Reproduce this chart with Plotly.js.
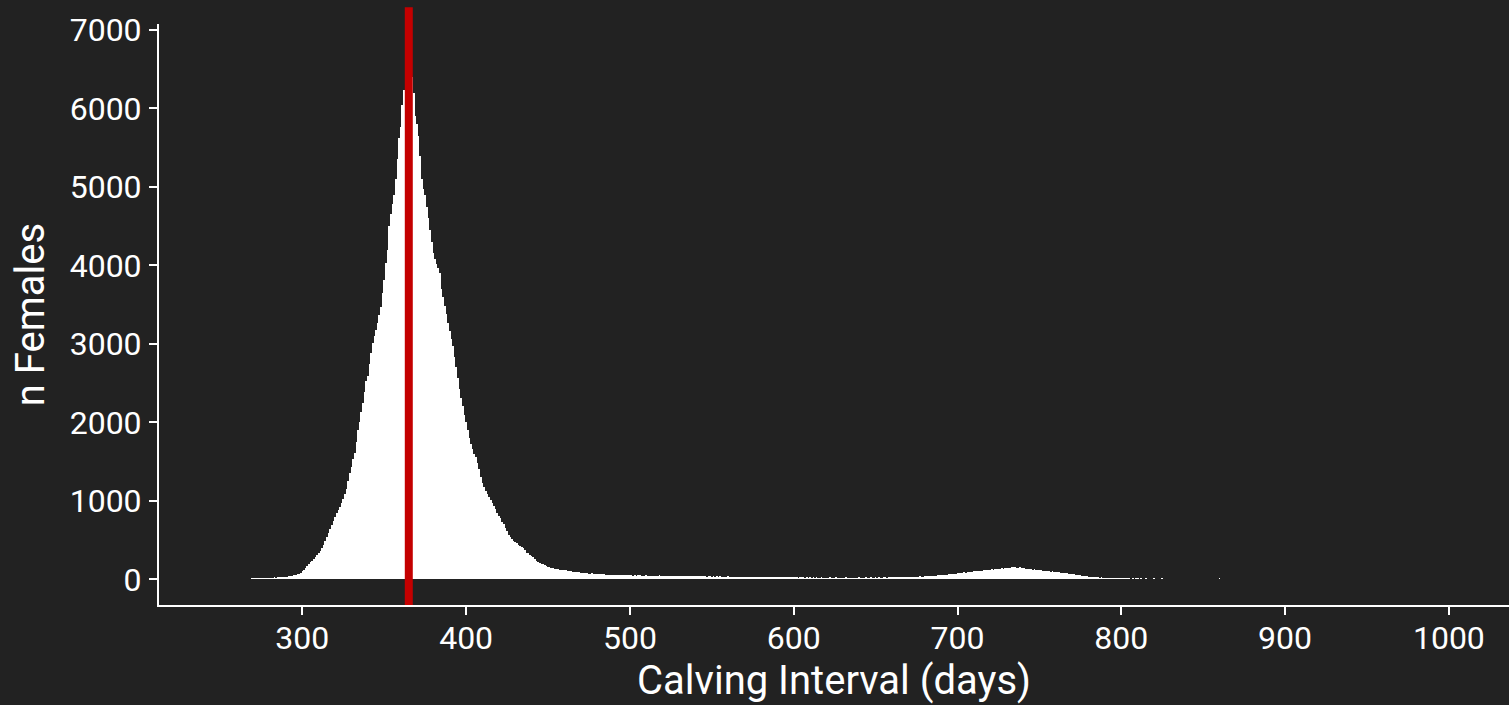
<!DOCTYPE html>
<html>
<head>
<meta charset="utf-8">
<script src="https://cdn.plot.ly/plotly-3.0.1.min.js"></script>
<style>
  html, body { margin: 0; padding: 0; background: #222222; }
  #chart { width: 1509px; height: 705px; }
</style>
</head>
<body>
<div id="chart"></div>
<script>
// First day of the histogram bins (1-day bins)
const firstDay = 269;

// Number of females per calving interval day
const counts = [
  // 269-299
  14,12,16,13,15,17,14,18,16,20,17,19,22,20,24,21,26,28,25,30,32,29,35,38,42,46,50,57,64,74,87,
  // 300-339
  100,120,140,165,190,215,240,265,290,315,340,365,400,440,490,540,590,640,690,740,
  790,840,880,920,970,1030,1090,1150,1250,1350,1430,1530,1610,1750,1900,2010,2130,2250,2390,2530,
  // 340-379
  2590,2740,2880,3010,3100,3180,3260,3370,3470,3650,3820,4030,4200,4500,4650,4780,4900,5100,5350,5620,
  5760,6050,6230,6330,6400,6450,6420,6400,6200,5900,5800,5650,5400,5100,4980,4900,4750,4600,4450,4300,
  // 380-419
  4160,4080,4020,3970,3900,3700,3600,3480,3380,3270,3170,3060,2970,2830,2700,2570,2430,2310,2210,2100,
  2000,1900,1800,1730,1660,1600,1560,1480,1400,1310,1230,1180,1130,1090,1050,1010,970,930,890,850,
  // 420-459
  810,780,730,700,650,610,560,540,510,490,480,460,440,420,415,400,370,340,330,310,
  295,285,260,240,225,210,200,190,180,170,162,158,150,145,138,132,128,124,120,118,
  // 460-485
  115,120,110,105,100,98,95,92,90,88,86,85,80,78,76,74,72,75,70,68,66,68,64,62,63,60,
  // 486-500
  58,61,57,55,59,54,56,52,55,53,50,54,51,49,52,
  // 501-520
  50,48,52,47,49,51,46,48,45,50,47,44,48,46,43,47,45,49,44,46,
  // 521-540
  43,46,42,45,44,41,47,43,40,44,42,45,41,39,43,40,42,38,41,40,
  // 541-560
  42,39,37,41,38,40,36,39,37,35,38,36,40,34,37,35,33,36,34,38,
  // 561-580
  35,33,31,34,32,36,30,33,31,29,34,30,32,28,31,33,29,30,27,31,
  // 581-600
  29,32,28,30,26,29,31,27,28,25,30,27,26,29,24,27,25,28,26,24,
  // 601-620
  27,25,23,26,24,28,22,25,23,26,21,24,22,25,23,20,24,22,21,23,
  // 621-640
  22,24,20,23,21,25,19,22,20,23,21,24,20,22,19,23,21,20,22,24,
  // 641-660
  21,23,20,25,22,19,24,21,23,26,22,25,23,21,27,24,22,26,25,28,
  // 661-680
  24,27,25,29,26,30,28,27,31,29,33,30,32,35,31,34,37,33,36,40,
  // 681-700
  38,42,39,45,43,48,46,52,50,55,53,58,60,57,64,62,68,70,73,76,
  // 701-720
  80,78,85,88,84,92,95,90,98,102,105,100,108,112,110,116,118,114,122,125,
  // 721-740
  128,124,132,135,130,138,140,136,145,148,150,146,160,152,155,150,148,152,145,140,
  // 741-760
  142,136,138,130,132,125,128,120,122,115,118,110,112,106,108,102,98,100,92,95,
  // 761-780
  88,90,84,80,82,75,78,70,72,65,62,58,55,52,50,46,44,40,38,35,
  // 781-800
  33,30,32,28,26,25,22,24,20,18,19,18,17,16,15,15,14,14,13,13,
  // 801-826
  14,12,13,11,12,10,11,0,12,11,0,12,10,0,11,0,10,0,0,12,0,0,10,0,11,10,
  // 827-859
  0,0,0,0,0,0,0,0,0,0,0,0,0,0,0,0,0,0,0,0,0,0,0,0,0,0,0,0,0,0,0,0,0,
  // 860
  14
];

// Reference line (one year)
const refDay = 365;

// Axis ticks
const xTicks = [300, 400, 500, 600, 700, 800, 900, 1000];
const yTicks = [0, 1000, 2000, 3000, 4000, 5000, 6000, 7000];

const days = counts.map((_, i) => firstDay + i);

const fg = '#ffffff';
const tickFont = { family: 'Roboto', size: 32, color: fg };
const titleFont = { family: 'Roboto', size: 40, color: fg };
const axisCommon = {
  showgrid: false,
  zeroline: false,
  showline: true,
  linecolor: fg,
  linewidth: 2,
  ticks: 'outside',
  ticklen: 8,
  tickwidth: 2,
  tickcolor: fg,
  tickfont: tickFont,
  automargin: false,
  fixedrange: true
};

const trace = {
  type: 'bar',
  x: days,
  y: counts,
  width: 1,
  marker: { color: '#ffffff', line: { width: 0 } },
  hoverinfo: 'x+y'
};

const layout = {
  width: 1509,
  height: 705,
  paper_bgcolor: '#222222',
  plot_bgcolor: '#222222',
  margin: { l: 159, r: 0, t: 24, b: 100, pad: 0 },
  bargap: 0,
  showlegend: false,
  font: { family: 'Roboto', color: fg },
  xaxis: Object.assign({}, axisCommon, {
    range: [212.5, 1036.7],
    tickvals: xTicks,
    ticktext: xTicks.map(String),
    ticklabelstandoff: -4,
    title: { text: 'Calving Interval (days)', font: titleFont, standoff: 10 }
  }),
  yaxis: Object.assign({}, axisCommon, {
    range: [-327, 7076],
    tickvals: yTicks,
    ticktext: yTicks.map(String),
    ticklabelstandoff: 1,
    title: { text: 'n Females', font: titleFont, standoff: 13 }
  }),
  shapes: [{
    type: 'line',
    xref: 'x', yref: 'paper',
    x0: refDay, x1: refDay,
    y0: 0, y1: 1.029,
    line: { color: '#c40000', width: 8 },
    layer: 'above'
  }]
};

Plotly.newPlot('chart', [trace], layout, { displayModeBar: false, staticPlot: true });
</script>
</body>
</html>
